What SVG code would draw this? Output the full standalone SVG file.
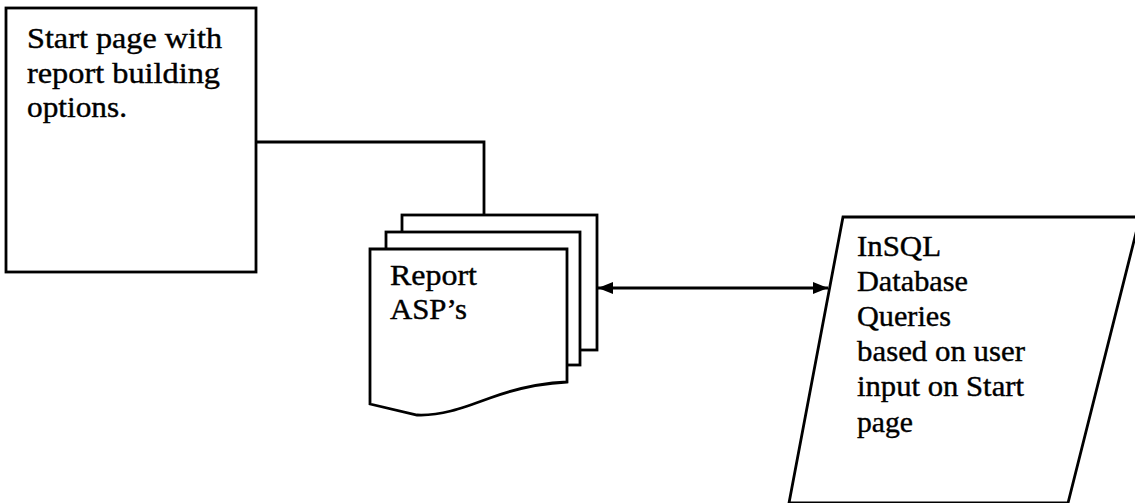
<svg xmlns="http://www.w3.org/2000/svg" width="1135" height="503" viewBox="0 0 1135 503">
<style>
.s{fill:#fff;stroke:#000;stroke-width:2.8;stroke-linejoin:miter}
.c{fill:none;stroke:#000;stroke-width:2.8}
.t{font-family:"Liberation Serif","Times New Roman",serif;font-size:30px;fill:#000;stroke:#000;stroke-width:0.4}
</style>
<defs>
<marker id="ah" viewBox="0 0 15 12" refX="15" refY="6" markerWidth="15" markerHeight="12" markerUnits="userSpaceOnUse" orient="auto-start-reverse">
<path d="M0,0 L15,6 L0,12 Z" fill="#000"/>
</marker>
</defs>
<rect width="1135" height="503" fill="#fff"/>
<g id="start">
<rect class="s" x="6" y="8" width="250" height="264"/>
<text class="t" x="27" y="48" textLength="195" lengthAdjust="spacingAndGlyphs">Start page with</text>
<text class="t" x="27" y="83" textLength="193" lengthAdjust="spacingAndGlyphs">report building</text>
<text class="t" x="27" y="117" textLength="100" lengthAdjust="spacingAndGlyphs">options.</text>
</g>
<g id="connectors">
<polyline class="c" points="256,142 484,142 484,215"/>
<line class="c" x1="598" y1="288" x2="828" y2="288" marker-start="url(#ah)" marker-end="url(#ah)"/>
</g>
<g id="reports">
<rect class="s" x="402" y="215" width="195" height="135"/>
<rect class="s" x="386" y="232" width="194" height="133"/>
<path class="s" d="M370,249 L567,249 L567,382 C545,383 520,387 490,398 C460,409 440,416 417,415 L370,404 Z"/>
<text class="t" x="390" y="285" textLength="87" lengthAdjust="spacingAndGlyphs">Report</text>
<text class="t" x="390" y="319" textLength="77" lengthAdjust="spacingAndGlyphs">ASP’s</text>
</g>
<g id="insql">
<polygon class="s" points="843,217 1140,217 1068,503 789,503"/>
<text class="t" x="857" y="256" textLength="84" lengthAdjust="spacingAndGlyphs">InSQL</text>
<text class="t" x="857" y="291" textLength="111" lengthAdjust="spacingAndGlyphs">Database</text>
<text class="t" x="857" y="326" textLength="94" lengthAdjust="spacingAndGlyphs">Queries</text>
<text class="t" x="857" y="361" textLength="168" lengthAdjust="spacingAndGlyphs">based on user</text>
<text class="t" x="857" y="396" textLength="167" lengthAdjust="spacingAndGlyphs">input on Start</text>
<text class="t" x="857" y="432" textLength="56" lengthAdjust="spacingAndGlyphs">page</text>
</g>
</svg>
